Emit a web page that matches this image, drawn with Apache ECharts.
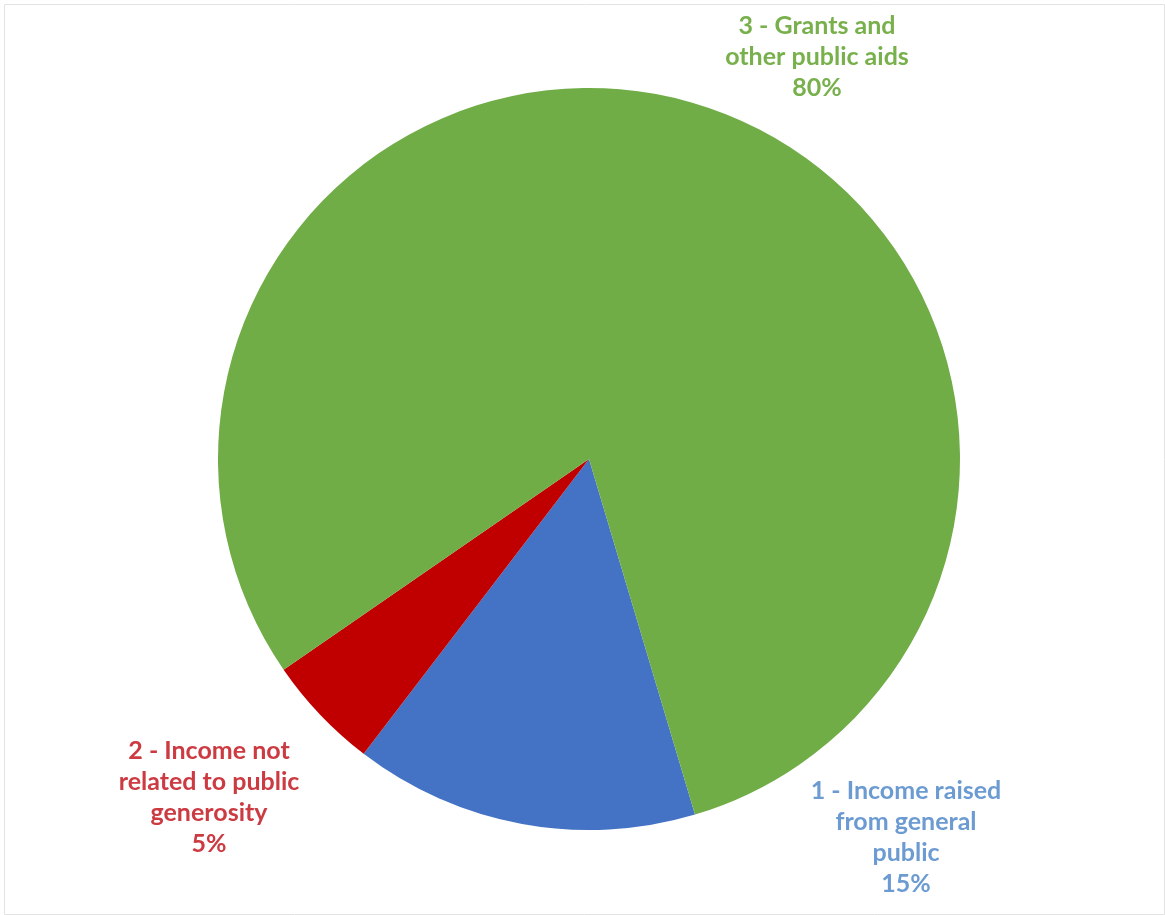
<!DOCTYPE html>
<html>
<head>
<meta charset="utf-8">
<script src="https://cdn.jsdelivr.net/npm/echarts@6/dist/echarts.min.js"></script>
<style>
html,body{margin:0;padding:0;background:#fff;}
#chart{width:1165px;height:915px;}
</style>
</head>
<body>
<div id="chart"></div>
<script>
// Data
const categories = [
  "1 - Income raised\nfrom general\npublic",
  "2 - Income not\nrelated to public\ngenerosity",
  "3 - Grants and\nother public aids"
];
const values = [15, 5, 80];
const sliceColors = ['#4472C4', '#C00000', '#70AD47'];
const labelColors = ['#6C9BD2', '#CC3A42', '#78B04C'];
const labelPos = [[906, 837], [209, 797], [817, 57]];

const chart = echarts.init(document.getElementById('chart'));
chart.setOption({
  backgroundColor: '#fff',
  animation: false,
  graphic: [{
    type: 'rect',
    shape: { x: 4.5, y: 4.5, width: 1160, height: 910 },
    style: { fill: 'none', stroke: '#e3e3e3', lineWidth: 1 },
    silent: true
  }],
  series: [{
    type: 'pie',
    center: [589, 459],
    radius: [0, 371],
    startAngle: -73.4,
    clockwise: true,
    percentPrecision: 0,
    data: categories.map((c, i) => ({
      name: c,
      value: values[i],
      itemStyle: { color: sliceColors[i] },
      label: { color: labelColors[i] }
    })),
    label: {
      show: true,
      position: 'outside',
      formatter: '{b}\n{d}%',
      fontFamily: 'Lato',
      fontWeight: 'bold',
      fontSize: 25,
      lineHeight: 31,
      align: 'center'
    },
    labelLine: { show: false },
    labelLayout: function (params) {
      const p = labelPos[params.dataIndex];
      return { x: p[0], y: p[1], align: 'center', verticalAlign: 'middle', hideOverlap: false };
    }
  }]
});
</script>
</body>
</html>
